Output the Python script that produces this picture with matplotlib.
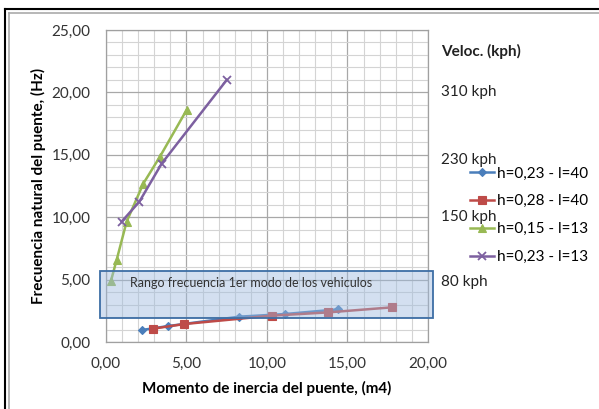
import matplotlib
matplotlib.use("Agg")
import matplotlib.pyplot as plt
from matplotlib.patches import Rectangle
from matplotlib.lines import Line2D
from matplotlib.ticker import MultipleLocator, FuncFormatter

plt.rcParams['font.family'] = ['Lato', 'DejaVu Sans']

# Data
blue_x = [2.22, 3.87, 8.28, 11.1, 14.43]
blue_y = [0.96, 1.28, 2.03, 2.24, 2.62]
red_x = [2.94, 4.87, 10.29, 13.77, 17.78]
red_y = [1.07, 1.44, 2.11, 2.37, 2.78]
green_x = [0.31, 0.66, 1.28, 2.32, 3.35, 5.01]
green_y = [4.91, 6.57, 9.64, 12.7, 14.85, 18.6]
purple_x = [0.97, 2.07, 3.46, 7.5]
purple_y = [9.64, 11.24, 14.3, 21.0]
series_labels = ["h=0,23 - l=40", "h=0,28 - l=40", "h=0,15 - l=13", "h=0,23 - l=13"]
speed_labels = ["310 kph", "230 kph", "150 kph", "80 kph"]
speed_y = [20.0, 14.6, 10.0, 4.8]
band_y = [1.95, 5.7]
band_x = [-0.37, 20.3]

colors = ['#4a7ebb', '#be4b48', '#98b954', '#7d60a0']
markers = ['D', 's', '^', 'x']
msizes = [4, 6, 6, 6]

fig = plt.figure(figsize=(5.99, 4.09), dpi=100)
ax = fig.add_axes([106/599, 1-342/409, 322/599, 312/409])

ax.set_xlim(0, 20)
ax.set_ylim(0, 25)
ax.xaxis.set_major_locator(MultipleLocator(5))
ax.xaxis.set_minor_locator(MultipleLocator(1))
ax.yaxis.set_major_locator(MultipleLocator(5))
ax.yaxis.set_minor_locator(MultipleLocator(1))
fmt = FuncFormatter(lambda v, p: f"{v:.2f}".replace('.', ','))
ax.xaxis.set_major_formatter(fmt)
ax.yaxis.set_major_formatter(fmt)
ax.grid(which='minor', color='#d4d4d4', lw=0.8)
ax.grid(which='major', color='#a8a8a8', lw=0.9)
ax.set_axisbelow(True)
ax.tick_params(which='both', length=0)
ax.tick_params(labelsize=11, colors='#333333', pad=11)
for s in ax.spines.values():
    s.set_color('#a0a0a0')
    s.set_linewidth(0.9)

ax.set_xlabel("Momento de inercia del puente, (m4)", fontsize=11, fontweight='bold', labelpad=7)
ax.set_ylabel("Frecuencia natural del puente, (Hz)", fontsize=11, fontweight='bold', labelpad=4)

xs = [blue_x, red_x, green_x, purple_x]
ys = [blue_y, red_y, green_y, purple_y]
for x, y, c, m, ms, lab in zip(xs, ys, colors, markers, msizes, series_labels):
    ax.plot(x, y, color=c, marker=m, ms=ms, lw=1.8, mew=1.3 if m == 'x' else 0.8,
            mec=c, label=lab, clip_on=False, zorder=3)

rect = Rectangle((band_x[0], band_y[0]), band_x[1]-band_x[0], band_y[1]-band_y[0],
                 facecolor=(0.62, 0.73, 0.87, 0.45), edgecolor='#3d6ea5', lw=1.3,
                 clip_on=False, zorder=4)
ax.add_patch(rect)
ax.text(1.5, 4.7, "Rango frecuencia 1er modo de los vehiculos", fontsize=9,
        color='#333333', va='center', ha='left', zorder=5)

ax.text(1.04, 23.3, "Veloc. (kph)", transform=ax.get_yaxis_transform(),
        fontsize=11, fontweight='bold', va='center', ha='left', color='#222222')
for lab, yv in zip(speed_labels, speed_y):
    ax.text(1.04, yv, lab, transform=ax.get_yaxis_transform(),
            fontsize=11, va='center', ha='left', color='#222222')

handles = [Line2D([], [], color=c, marker=m, ms=ms, lw=1.8, mew=1.3 if m == 'x' else 0.8, mec=c)
           for c, m, ms in zip(colors, markers, msizes)]
fig.legend(handles, series_labels, loc='upper left', bbox_to_anchor=(462/599, 1-159/409),
           frameon=False, fontsize=11, handlelength=1.6, handletextpad=0.2,
           labelspacing=0.9, borderpad=0)

# figure frame lines (top and left)
fig.add_artist(Line2D([5/599, 5/599], [0, 1-9/409], color='black', lw=1.5, transform=fig.transFigure))
fig.add_artist(Line2D([5/599, 1], [1-9/409, 1-9/409], color='black', lw=1.5, transform=fig.transFigure))
fig.add_artist(Line2D([9/599, 9/599], [0, 1-13/409], color='#aaaaaa', lw=1.2, transform=fig.transFigure))
fig.add_artist(Line2D([9/599, 1], [1-13/409, 1-13/409], color='#aaaaaa', lw=1.2, transform=fig.transFigure))

fig.savefig("out.png", dpi=100)
